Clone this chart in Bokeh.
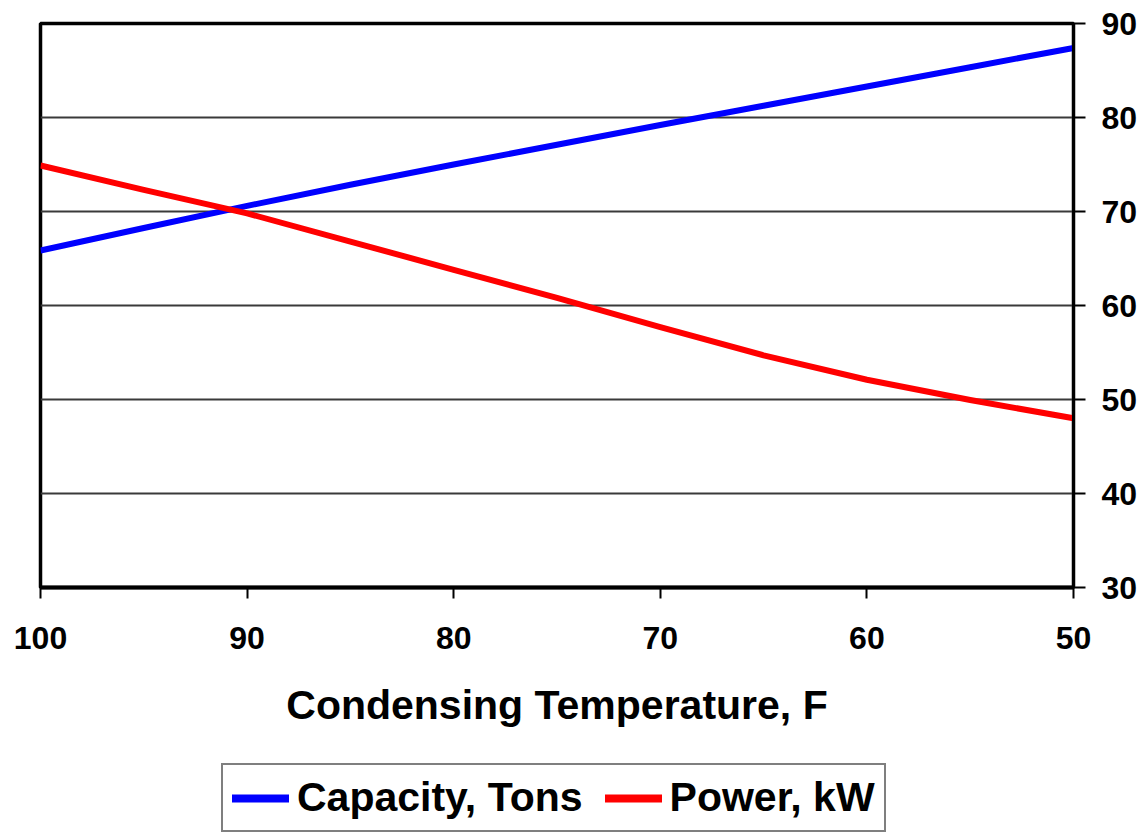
from bokeh.plotting import figure
from bokeh.layouts import column
from bokeh.models import Range1d, FixedTicker, Legend, LegendItem
from bokeh.embed import file_html
from bokeh.resources import INLINE

# Condensing temperature (F) and chiller performance
temperature = [100, 95, 90, 85, 80, 75, 70, 65, 60, 55, 50]
capacity_tons = [65.85, 68.25, 70.6, 72.85, 75.0, 77.1, 79.2, 81.25, 83.3, 85.35, 87.4]
power_kw = [74.9, 72.3, 69.8, 66.8, 63.8, 60.8, 57.7, 54.7, 52.1, 49.95, 48.0]

series_labels = ["Capacity, Tons", "Power, kW"]
series_colors = ["#0000ff", "#ff0000"]

x_ticks = [100, 90, 80, 70, 60, 50]
y_ticks = [30, 40, 50, 60, 70, 80, 90]

FONT = "Liberation Sans"
LINE_W = 6

# Main chart: reversed temperature axis, value axis on the right
p = figure(
    width=1142, height=747,
    x_range=Range1d(100, 50), y_range=Range1d(30, 90),
    y_axis_location="right",
    output_backend="svg", toolbar_location=None,
    min_border_left=40, min_border_right=69,
    min_border_top=23, min_border_bottom=160,
)
p.background_fill_color = "white"
p.border_fill_color = "white"
p.outline_line_color = "black"
p.outline_line_width = 3.5

p.xgrid.visible = False
p.ygrid.grid_line_color = "#3a3a3a"
p.ygrid.grid_line_width = 2
p.ygrid.ticker = FixedTicker(ticks=y_ticks)

xa = p.xaxis[0]
xa.ticker = FixedTicker(ticks=x_ticks)
xa.minor_tick_line_color = None
xa.major_tick_in = 0
xa.major_tick_out = 11
xa.major_tick_line_width = 2
xa.axis_line_width = 4
xa.major_label_standoff = 28
xa.major_label_text_font = FONT
xa.major_label_text_font_style = "bold"
xa.major_label_text_font_size = "32px"
xa.major_label_text_color = "black"
xa.axis_label = "Condensing Temperature, F"
xa.axis_label_standoff = 30
xa.axis_label_text_font = FONT
xa.axis_label_text_font_style = "bold"
xa.axis_label_text_font_size = "41px"
xa.axis_label_text_color = "black"

ya = p.yaxis[0]
ya.ticker = FixedTicker(ticks=y_ticks)
ya.minor_tick_line_color = None
ya.major_tick_in = 0
ya.major_tick_out = 12
ya.major_tick_line_width = 2
ya.axis_line_width = 3
ya.major_label_standoff = 16
ya.major_label_text_font = FONT
ya.major_label_text_font_style = "bold"
ya.major_label_text_font_size = "32px"
ya.major_label_text_color = "black"

p.line(temperature, capacity_tons, line_color=series_colors[0], line_width=LINE_W,
       line_join="round")
p.line(temperature, power_kw, line_color=series_colors[1], line_width=LINE_W,
       line_join="round")

# Legend strip underneath the chart (its frame lines up with the chart's frame)
lg = figure(
    width=1142, height=87,
    x_axis_location=None, y_axis_location=None,
    output_backend="svg", toolbar_location=None,
    min_border=0,
)
lg.outline_line_color = None
lg.grid.visible = False
lg.background_fill_color = "white"
lg.border_fill_color = "white"

nan = float("nan")
keys = [lg.line(x=[nan], y=[nan], line_color=c, line_width=8, line_cap="round")
        for c in series_colors]

legend = Legend(
    items=[LegendItem(label=t, renderers=[r]) for t, r in zip(series_labels, keys)],
    location=(181, 2),
    orientation="horizontal",
    border_line_color="black", border_line_width=2,
    background_fill_color="white", background_fill_alpha=1,
    padding=9, spacing=22, margin=0,
    glyph_width=57, glyph_height=30, label_standoff=8,
    label_text_font=FONT, label_text_font_style="bold",
    label_text_font_size="41px", label_text_color="black",
)
lg.add_layout(legend, "center")

open("out.html", "w").write(file_html(column(p, lg, spacing=0), INLINE))
